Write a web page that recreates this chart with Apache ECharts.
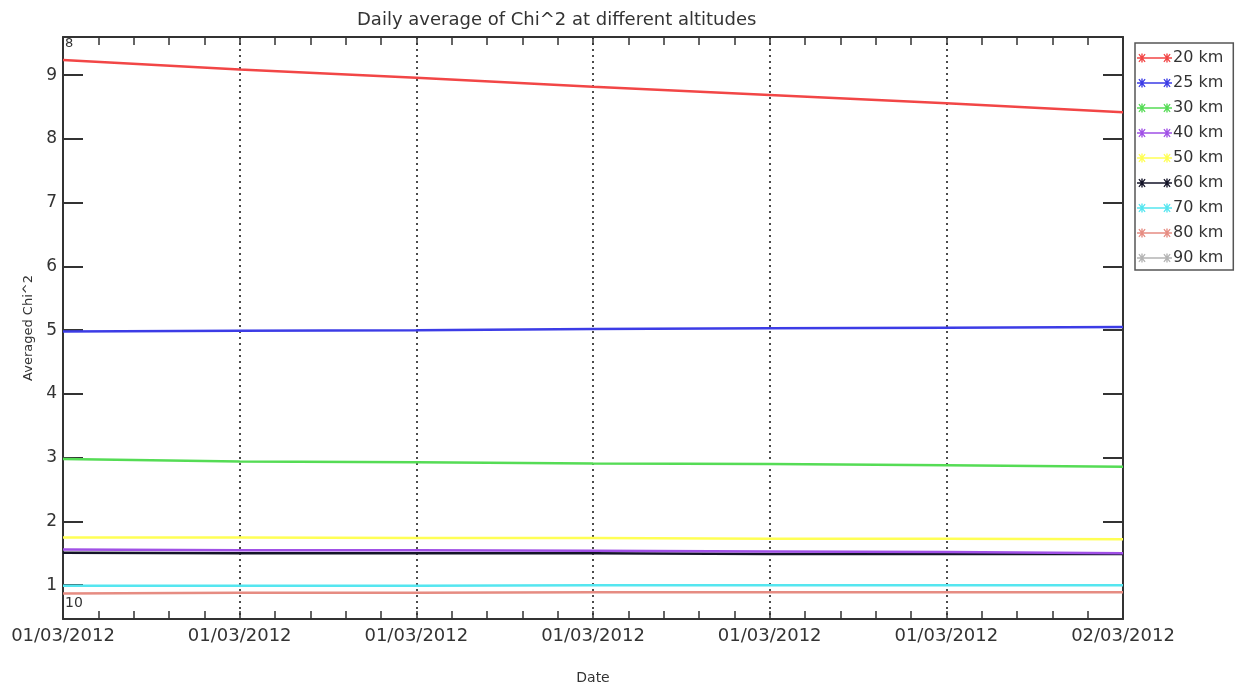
<!DOCTYPE html>
<html>
<head>
<meta charset="utf-8">
<title>Daily average of Chi^2</title>
<script src="https://cdn.jsdelivr.net/npm/echarts@6/dist/echarts.min.js"></script>
<style>
  html, body { margin: 0; padding: 0; background: #fff; }
  #chart { width: 1246px; height: 687px; }
</style>
</head>
<body>
<div id="chart"></div>
<script>
// hours of the day (x positions of the samples)
var hours = [0, 4, 8, 12, 16, 20, 24];
var xTickLabels = ["01/03/2012", "01/03/2012", "01/03/2012", "01/03/2012", "01/03/2012", "01/03/2012", "02/03/2012"];
var yTicks = [1, 2, 3, 4, 5, 6, 7, 8, 9];

var altitudes = ["20 km", "25 km", "30 km", "40 km", "50 km", "60 km", "70 km", "80 km", "90 km"];
var colors = ["#f24646", "#3c3ce6", "#55dc55", "#a050e6", "#ffff55", "#141428", "#55e6f0", "#e68c82", "#b4b4b4"];

// averaged chi^2 per altitude
var chi20 = [9.24, 9.09, 8.96, 8.82, 8.69, 8.56, 8.42];
var chi25 = [4.98, 4.99, 5.00, 5.02, 5.03, 5.04, 5.05];
var chi30 = [2.98, 2.94, 2.93, 2.91, 2.90, 2.88, 2.86];
var chi40 = [1.56, 1.55, 1.55, 1.54, 1.53, 1.52, 1.50];
var chi50 = [1.75, 1.75, 1.74, 1.74, 1.73, 1.73, 1.72];
var chi60 = [1.51, 1.50, 1.50, 1.50, 1.49, 1.49, 1.49];
var chi70 = [0.99, 0.99, 0.99, 1.00, 1.00, 1.00, 1.00];
var chi80 = [0.87, 0.88, 0.88, 0.89, 0.89, 0.89, 0.89];
var chi90 = [];

var allData = [chi20, chi25, chi30, chi40, chi50, chi60, chi70, chi80, chi90];

var fontName = "DejaVu Sans";
var axisColor = "#333";

// line with two asterisks, for the legend
var starIcon = "path://M0 4.3H35V5.7H0Z" +
  "M4.3 0.5H5.7V9.5H4.3Z M1.4 1.6L2.4 0.7L8.6 8.4L7.6 9.3Z M7.6 0.7L8.6 1.6L2.4 9.3L1.4 8.4Z" +
  "M29.3 0.5H30.7V9.5H29.3Z M26.4 1.6L27.4 0.7L33.6 8.4L32.6 9.3Z M32.6 0.7L33.6 1.6L27.4 9.3L26.4 8.4Z";

var myChart = echarts.init(document.getElementById("chart"));

var series = altitudes.map(function (name, i) {
  return {
    name: name,
    type: "line",
    color: colors[i],
    showSymbol: false,
    lineStyle: { width: 2.5 },
    data: allData[i].map(function (v, j) { return [hours[j], v]; }),
    z: 10 - i
  };
});

var option = {
  animation: false,
  title: {
    text: "Daily average of Chi^2 at different altitudes",
    left: 352,
    top: 6,
    textStyle: { fontFamily: fontName, fontSize: 18, fontWeight: "normal", color: axisColor }
  },
  legend: {
    orient: "vertical",
    left: 1135,
    top: 43,
    padding: [7, 10, 4, 2],
    itemWidth: 35,
    itemHeight: 10,
    itemGap: 9,
    icon: starIcon,
    borderColor: "#555",
    borderWidth: 1.5,
    borderRadius: 0,
    textStyle: { fontFamily: fontName, fontSize: 16, color: axisColor, padding: [0, 0, 0, -4] },
    data: altitudes
  },
  grid: { left: 63, right: 123, top: 37, bottom: 68, outerBoundsMode: "none" },
  xAxis: [
    {
      type: "value",
      min: 0,
      max: 24,
      interval: 4,
      name: "Date",
      nameLocation: "middle",
      nameGap: 52,
      nameTextStyle: { fontFamily: fontName, fontSize: 14, color: axisColor },
      axisLine: { onZero: false, lineStyle: { color: axisColor, width: 2 } },
      axisTick: { inside: true, length: 8, lineStyle: { color: axisColor, width: 1.5 } },
      minorTick: { show: true, splitNumber: 5, length: 8, lineStyle: { color: axisColor, width: 1.5 } },
      splitLine: { show: true, lineStyle: { color: "#111", width: 1.5, type: [2, 4] } },
      axisLabel: {
        fontFamily: fontName,
        fontSize: 18,
        color: axisColor,
        margin: 8,
        formatter: function (v) { return xTickLabels[Math.round(v / 4)]; }
      }
    },
    {
      type: "value",
      position: "top",
      min: 0,
      max: 24,
      interval: 4,
      axisLine: { onZero: false, lineStyle: { color: axisColor, width: 2 } },
      axisTick: { inside: true, length: 8, lineStyle: { color: axisColor, width: 1.5 } },
      minorTick: { show: true, splitNumber: 5, length: 8, lineStyle: { color: axisColor, width: 1.5 } },
      splitLine: { show: false },
      axisLabel: { show: false }
    }
  ],
  yAxis: [
    {
      type: "value",
      min: 0.47,
      max: 9.6,
      name: "Averaged Chi^2",
      nameLocation: "middle",
      nameGap: 24,
      nameTextStyle: { fontFamily: fontName, fontSize: 13, color: axisColor },
      axisLine: { show: true, onZero: false, lineStyle: { color: axisColor, width: 2 } },
      axisTick: { show: true, inside: true, length: 20, customValues: yTicks, lineStyle: { color: axisColor, width: 2 } },
      splitLine: { show: false },
      axisLabel: {
        fontFamily: fontName,
        fontSize: 17,
        color: axisColor,
        margin: 6,
        customValues: yTicks
      }
    },
    {
      type: "value",
      position: "right",
      min: 0.47,
      max: 9.6,
      axisLine: { show: true, onZero: false, lineStyle: { color: axisColor, width: 2 } },
      axisTick: { show: true, inside: true, length: 20, customValues: yTicks, lineStyle: { color: axisColor, width: 2 } },
      splitLine: { show: false },
      axisLabel: { show: false }
    }
  ],
  graphic: [
    { type: "text", left: 65, top: 37, style: { text: "8", font: "13px DejaVu Sans", fill: axisColor } },
    { type: "text", left: 65, top: 596, style: { text: "10", font: "14px DejaVu Sans", fill: axisColor } }
  ],
  series: series
};

option && myChart.setOption(option);
</script>
</body>
</html>
